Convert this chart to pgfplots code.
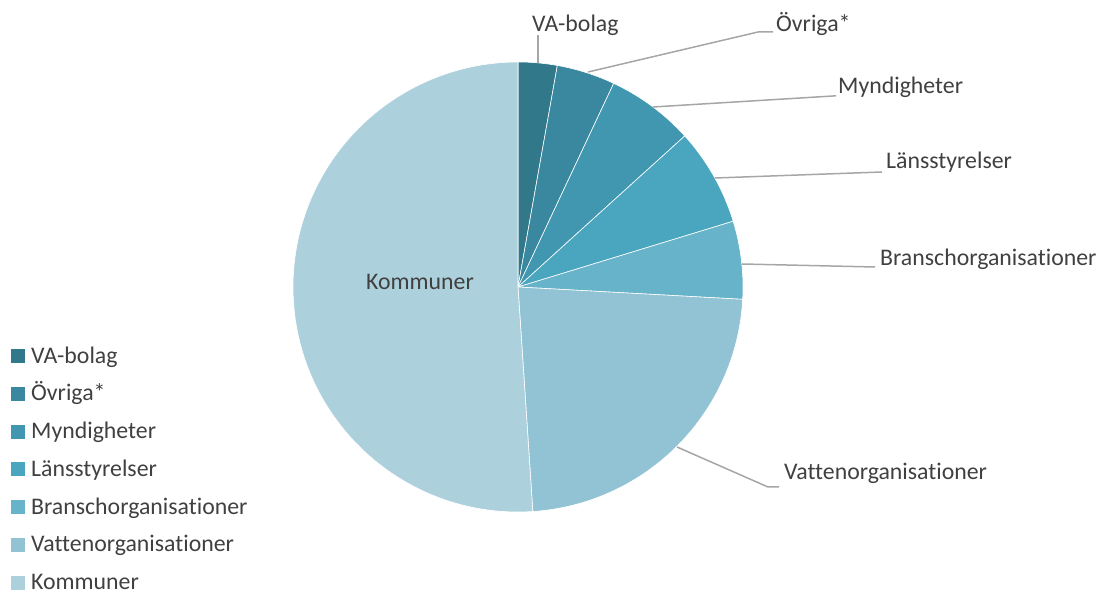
\documentclass[border=0pt]{standalone}
\usepackage{pgfplots}
\pgfplotsset{compat=1.18}
\usepackage{pgfplotstable}
\usepackage{fontspec}
\setmainfont{Carlito}[Ligatures={NoCommon}]
\definecolor{c1}{HTML}{31788A}
\definecolor{c2}{HTML}{3A88A0}
\definecolor{c3}{HTML}{4197AF}
\definecolor{c4}{HTML}{4AA6BF}
\definecolor{c5}{HTML}{67B3C9}
\definecolor{c6}{HTML}{92C3D5}
\definecolor{c7}{HTML}{ADD1DC}
\definecolor{txt}{HTML}{404040}
\definecolor{lead}{HTML}{A6A6A6}

% number of respondents per group
\pgfplotstableread[col sep=comma]{
group,value
VA-bolag,4
Övriga*,6
Myndigheter,9
Länsstyrelser,10
Branschorganisationer,8
Vattenorganisationer,33
Kommuner,73
}\piedata

% cumulative angles (clockwise from the top)
\def\pietotal{0}
\foreach \i in {0,...,6}{%
  \pgfplotstablegetelem{\i}{value}\of{\piedata}%
  \pgfmathsetmacro{\piet}{\pietotal+\pgfplotsretval}%
  \global\let\pietotal\piet}
\def\piecum{0}
\foreach \i/\nm in {0/A,1/B,2/C,3/D,4/E,5/F,6/G}{%
  \pgfplotstablegetelem{\i}{value}\of{\piedata}%
  \pgfmathsetmacro{\pies}{90-360*(\piecum/\pietotal)}%
  \pgfmathsetmacro{\piec}{\piecum+\pgfplotsretval}%
  \pgfmathsetmacro{\piee}{90-360*(\piec/\pietotal)}%
  \expandafter\xdef\csname st\nm\endcsname{\pies}%
  \expandafter\xdef\csname en\nm\endcsname{\piee}%
  \global\let\piecum\piec}

\begin{document}
\begin{tikzpicture}
\begin{axis}[
  scale only axis, width=1099pt, height=591pt,
  xmin=0, xmax=1099, ymin=0, ymax=591,
  hide axis, clip=false,
  legend image code/.code={\fill[#1] (0pt,0pt) rectangle (14pt,14pt);},
  legend style={draw=none, fill=none, inner sep=0pt,
    at={(axis cs:11,245)}, anchor=north west,
    font=\fontsize{23.8}{26}\selectfont, text=txt,
    row sep=19.75pt,
    nodes={text height=17pt, text depth=1pt, inner xsep=0pt, inner ysep=0pt, anchor=base west},
    /tikz/every odd column/.style={column sep=6pt}},
  legend cell align=left,
]
\foreach \nm/\col in {A/c1,B/c2,C/c3,D/c4,E/c5,F/c6,G/c7}{%
  \edef\doit{\noexpand\fill[\col, draw=white, line width=0.6pt, line join=round]
    (axis cs:518,304) -- ++(\csname st\nm\endcsname:225pt)
    arc[start angle=\csname st\nm\endcsname, end angle=\csname en\nm\endcsname, radius=225pt] -- cycle;}%
  \doit}
\addlegendimage{fill=c1, draw=none}\addlegendentry{VA-bolag}
\addlegendimage{fill=c2, draw=none}\addlegendentry{Övriga*}
\addlegendimage{fill=c3, draw=none}\addlegendentry{Myndigheter}
\addlegendimage{fill=c4, draw=none}\addlegendentry{Länsstyrelser}
\addlegendimage{fill=c5, draw=none}\addlegendentry{Branschorganisationer}
\addlegendimage{fill=c6, draw=none}\addlegendentry{Vattenorganisationer}
\addlegendimage{fill=c7, draw=none}\addlegendentry{Kommuner}

% leader lines
\begin{scope}[lead, line width=1.5pt]
\draw (axis cs:538,{591-63}) -- (axis cs:538,{591-35});
\draw (axis cs:588,{591-72}) -- (axis cs:758,{591-32}) -- (axis cs:773,{591-32});
\draw (axis cs:653,{591-107}) -- (axis cs:833,{591-96}) -- (axis cs:836,{591-96});
\draw (axis cs:715,{591-178}) -- (axis cs:882,{591-172});
\draw (axis cs:742,{591-264}) -- (axis cs:875,{591-267});
\draw (axis cs:677,{591-447}) -- (axis cs:768,{591-487}) -- (axis cs:779,{591-487});
\end{scope}
% data labels
\begin{scope}[every node/.style={anchor=base west, inner sep=0pt, text=txt, font=\fontsize{23.8}{26}\selectfont}]
\node at (axis cs:532,{591-32}) {VA-bolag};
\node at (axis cs:776,{591-32}) {Övriga*};
\node at (axis cs:838,{591-94}) {Myndigheter};
\node at (axis cs:886,{591-169}) {Länsstyrelser};
\node at (axis cs:880,{591-266}) {Branschorganisationer};
\node at (axis cs:784,{591-480}) {Vattenorganisationer};
\node at (axis cs:366,{591-290}) {Kommuner};
\end{scope}
\end{axis}
\pgfresetboundingbox
\path (0,0) rectangle (1099pt,591pt);
\end{tikzpicture}
\end{document}
